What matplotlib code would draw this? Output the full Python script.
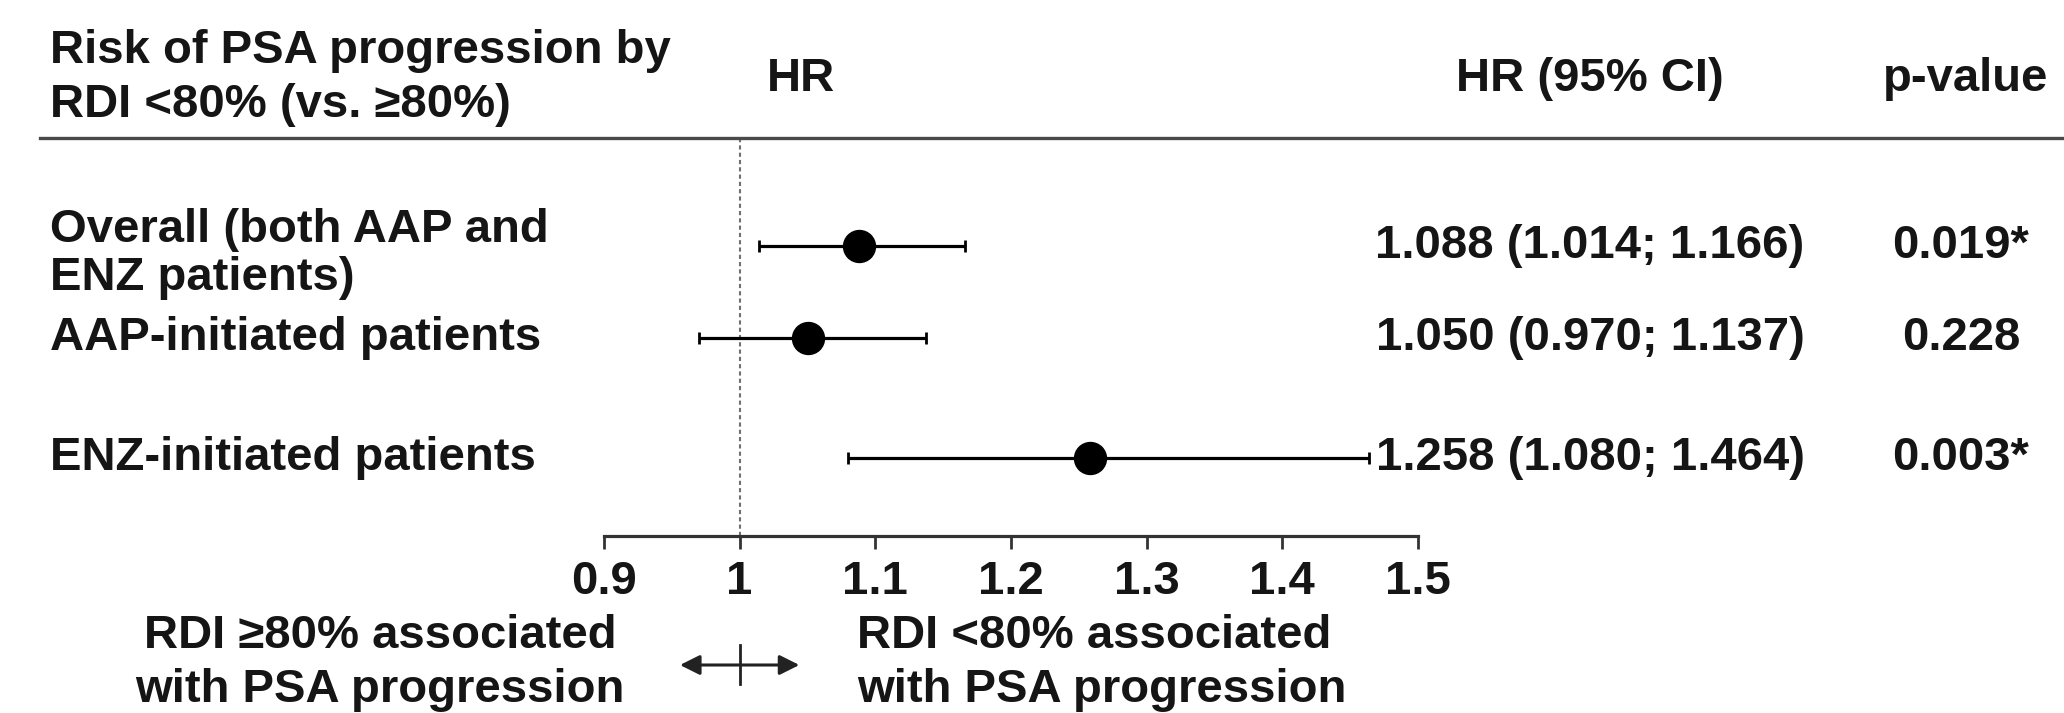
import matplotlib.pyplot as plt
from matplotlib.lines import Line2D
from matplotlib.transforms import blended_transform_factory

plt.rcParams['font.family'] = ['Liberation Sans', 'DejaVu Sans']
plt.rcParams['font.weight'] = 'bold'

# data
labels = ['Overall (both AAP and\nENZ patients)', 'AAP-initiated patients', 'ENZ-initiated patients']
hr = [1.088, 1.050, 1.258]
ci_low = [1.014, 0.970, 1.080]
ci_high = [1.166, 1.137, 1.464]
p_values = ['0.019*', '0.228', '0.003*']
ticks = [0.9, 1.0, 1.1, 1.2, 1.3, 1.4, 1.5]
tick_labels = ['0.9', '1', '1.1', '1.2', '1.3', '1.4', '1.5']

# layout (pixels of the 2064x713 canvas)
W, H = 2064, 713
row_pos = [0.271, 0.503, 0.804]  # fraction of the plot height, from the top
FS = 34
TXT = '#151515'


def fx(x):
    return x / W


def fy(y):
    return 1 - y / H


fig = plt.figure(figsize=(20.64, 7.13), dpi=100, facecolor='white')
ax = fig.add_axes([fx(604), fy(536), fx(1418) - fx(604), fy(138) - fy(536)])
ax.set_xlim(0.9, 1.5)
ax.set_ylim(1, 0)

# reference line at HR = 1
ax.axvline(1.0, color='#707070', lw=1.5, ls=(0, (2, 1.5)), zorder=1)

err = [[h - l for h, l in zip(hr, ci_low)], [u - h for h, u in zip(hr, ci_high)]]
ax.errorbar(hr, row_pos, xerr=err, fmt='o', color='black', ms=23,
            elinewidth=2.3, capsize=4.5, capthick=2, clip_on=False, zorder=3)

for s in ['top', 'right', 'left']:
    ax.spines[s].set_visible(False)
ax.spines['bottom'].set_linewidth(2.3)
ax.spines['bottom'].set_color('#333333')
ax.set_yticks([])
ax.set_xticks(ticks)
ax.set_xticklabels(tick_labels)
ax.tick_params(axis='x', length=9, width=2, pad=8, labelsize=FS,
               color='#333333', labelcolor=TXT)

# table text
rows = blended_transform_factory(fig.transFigure, ax.transData)
for i in range(len(labels)):
    shift = 0.02 if '\n' in labels[i] else 0
    ax.text(fx(50), row_pos[i] + shift, labels[i], transform=rows, ha='left', va='center',
            fontsize=FS, color=TXT, linespacing=1.12)
    ax.text(fx(1590), row_pos[i], f'{hr[i]:.3f} ({ci_low[i]:.3f}; {ci_high[i]:.3f})',
            transform=rows, ha='center', va='center', fontsize=FS, color=TXT)
    ax.text(fx(1961), row_pos[i], p_values[i], transform=rows, ha='center',
            va='center', fontsize=FS, color=TXT)

# header
fig.text(fx(50), fy(78), 'Risk of PSA progression by\nRDI <80% (vs. ≥80%)',
         ha='left', va='center', fontsize=FS, color=TXT, linespacing=1.3)
fig.text(fx(767), fy(79), 'HR', ha='left', va='center', fontsize=FS, color=TXT)
fig.text(fx(1590), fy(79), 'HR (95% CI)', ha='center', va='center', fontsize=FS, color=TXT)
fig.text(fx(1966), fy(79), 'p-value', ha='center', va='center', fontsize=FS, color=TXT)
fig.add_artist(Line2D([fx(40), 1], [fy(138), fy(138)], color='#4a4a4a', lw=2.4))

# direction legend under the axis
fig.text(fx(380), fy(663), 'RDI ≥80% associated\nwith PSA progression',
         ha='center', va='center', fontsize=FS, color=TXT, linespacing=1.3)
fig.text(fx(857), fy(663), 'RDI <80% associated\nwith PSA progression',
         ha='left', va='center', fontsize=FS, color=TXT, linespacing=1.3)
below = blended_transform_factory(ax.transData, fig.transFigure)
ax.annotate('', xy=(0.956, fy(665)), xytext=(1.044, fy(665)),
            xycoords=below, textcoords=below, annotation_clip=False,
            arrowprops=dict(arrowstyle='<|-|>', lw=2.2, color='#222222',
                            mutation_scale=30, shrinkA=0, shrinkB=0))
ax.plot([1.0, 1.0], [fy(645), fy(684)], transform=below, color='#222222',
        lw=2, clip_on=False)

fig.savefig('out.png', dpi=100, facecolor='white')
